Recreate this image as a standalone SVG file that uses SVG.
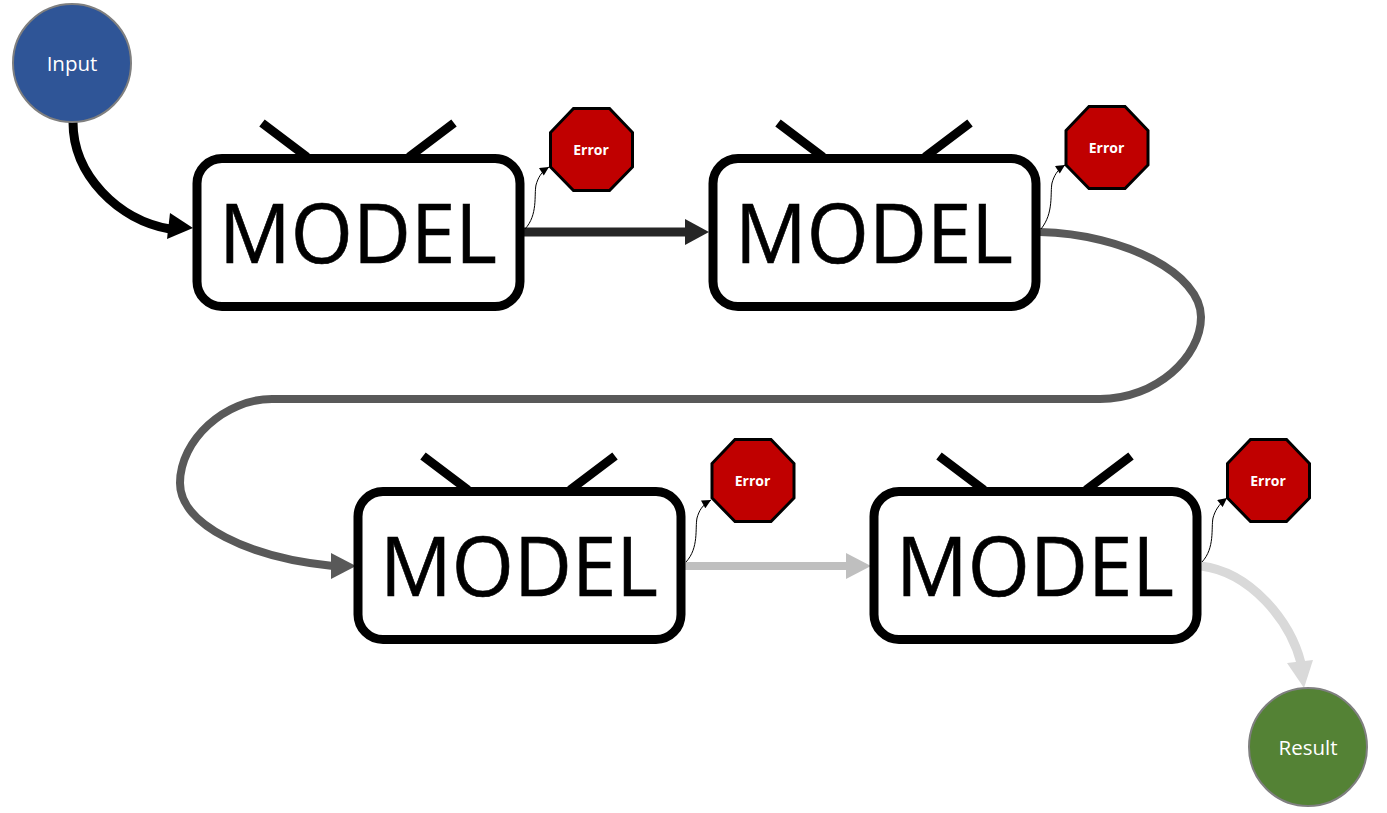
<svg xmlns="http://www.w3.org/2000/svg" width="1387" height="813" viewBox="0 0 1387 813">
<style>
.box{fill:#fff;stroke:#000;stroke-width:9}
.ant{stroke:#000;stroke-width:9;fill:none}
.oct{fill:#c00000;stroke:#000;stroke-width:3}
.m{font-family:"Open Sans","Noto Sans",sans-serif;font-size:83px;fill:#000;stroke:#000;stroke-width:.6;text-anchor:middle}
.e{font-family:"Open Sans","Noto Sans",sans-serif;font-size:14px;font-weight:700;fill:#fff;text-anchor:middle}
.c{font-family:"Open Sans","Noto Sans",sans-serif;font-size:20.500px;fill:#fff;text-anchor:middle}
.circ{stroke:#7f7f7f;stroke-width:2}
.l{fill:none}
.thin{fill:none;stroke:#000;stroke-width:1;marker-end:url(#th)}
</style>
<defs>
<marker id="th" viewBox="0 0 10 10" refX="10" refY="5" markerUnits="userSpaceOnUse" markerWidth="10" markerHeight="9" orient="auto"><path d="M0 0L10 5L0 10Z" fill="#000"/></marker>
<g id="nodeShape">
<path class="ant" d="M262 123L307 157M454 123L409 157"/>
<rect class="box" x="197" y="158.500" width="323" height="148" rx="25"/>
<text class="m" x="358" y="263" textLength="278" lengthAdjust="spacingAndGlyphs">MODEL</text>
</g>
<g id="errShape">
<path class="oct" d="M573.500 108.500H609.500L632.500 132.500V167L609.500 190.500H573.500L550.500 167V132.500Z"/>
<text class="e" x="591" y="154.500">Error</text>
</g>
</defs>
<g id="connectors">
<path class="l" stroke="#000" stroke-width="9" d="M73 122C73 175 118 220 170 229"/>
<path fill="#000" d="M193 228L170 213L167 239Z"/>
<path class="l" stroke="#262626" stroke-width="9" d="M524 232H688"/>
<path fill="#262626" d="M709 232L685 219V245Z"/>
<path class="l" stroke="#595959" stroke-width="8" d="M1040 232C1125 234 1201 274 1201 317C1201 357 1156 399 1100 399H272C225 399 180 440 180 483C180 525 250 558 333 566"/>
<path fill="#595959" d="M356 566L331 553V579Z"/>
<path class="l" stroke="#bfbfbf" stroke-width="8" d="M685 566H850"/>
<path fill="#bfbfbf" d="M871 566L846 553V579Z"/>
<path class="l" stroke="#d9d9d9" stroke-width="9" d="M1201 566C1250 572 1290 620 1301 663"/>
<path fill="#d9d9d9" d="M1304 688L1313 660L1287 663Z"/>
<path class="thin" d="M525 229C538 215 534 195 536 185C538 178 541 172 549 167"/>
<path class="thin" d="M1041 229C1054 213 1050 193 1052 183C1054 176 1057 170 1065 165"/>
<path class="thin" d="M686 562C699 548 695 528 697 518C699 511 702 505 711 500"/>
<path class="thin" d="M1202 562C1215 548 1211 528 1213 518C1215 511 1218 505 1227 498"/>
</g>
<g id="input"><circle class="circ" cx="72" cy="63" r="59" fill="#2f5597"/><text class="c" x="72" y="71">Input</text></g>
<g id="model1"><use href="#nodeShape"/></g>
<g id="model2"><use href="#nodeShape" x="516"/></g>
<g id="model3"><use href="#nodeShape" x="161" y="333"/></g>
<g id="model4"><use href="#nodeShape" x="677" y="333"/></g>
<g id="error1"><use href="#errShape"/></g>
<g id="error2"><use href="#errShape" x="515.500" y="-2"/></g>
<g id="error3"><use href="#errShape" x="161.500" y="331"/></g>
<g id="error4"><use href="#errShape" x="677" y="331"/></g>
<g id="result"><circle class="circ" cx="1308" cy="747" r="59" fill="#548235"/><text class="c" x="1308" y="755">Result</text></g>
</svg>
